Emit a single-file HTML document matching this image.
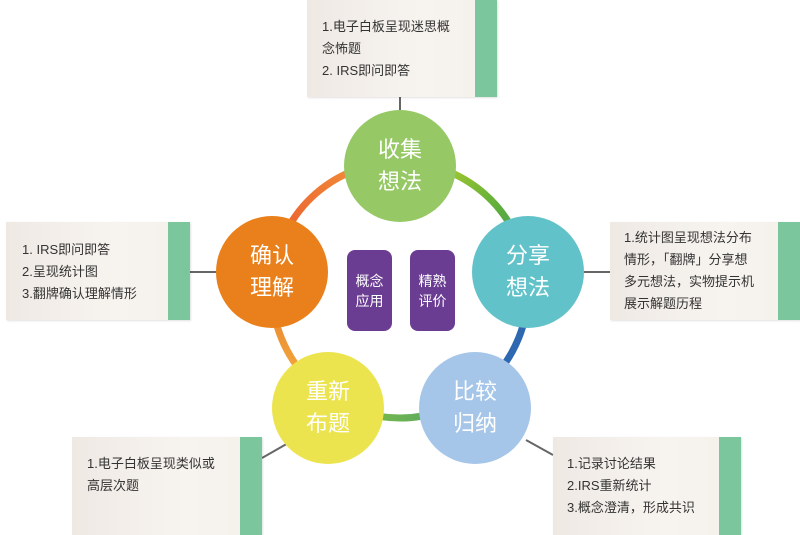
<!DOCTYPE html>
<html><head><meta charset="utf-8"><style>
body{margin:0;width:800px;height:535px;background:#fff;overflow:hidden;position:relative;font-family:"Liberation Sans","Noto Sans CJK SC",sans-serif}
.box{position:absolute;background:linear-gradient(90deg,#efe9e4,#f7f4f0 60%,#f4f0ea);box-shadow:1px 1px 2px rgba(0,0,0,.12);font-size:13px;color:#333;line-height:22px}
.box .s{position:absolute;top:0;right:0;width:22px;height:100%;background:#7bc69d}
.box .t{position:absolute}
.c{position:absolute;border-radius:50%;color:#fff;font-size:22px;line-height:32px;text-align:center;display:flex;align-items:center;justify-content:center}
.p{position:absolute;background:#6a3d92;border-radius:8px;color:#fff;font-size:14px;line-height:20px;text-align:center;display:flex;align-items:center;justify-content:center}
</style></head><body>
<svg width="800" height="535" style="position:absolute;left:0;top:0">
<defs>
<linearGradient id="g1" x1="0" y1="1" x2="1" y2="0"><stop offset="0" stop-color="#e8522e"/><stop offset="1" stop-color="#f39a3a"/></linearGradient>
<linearGradient id="g2" x1="0" y1="0" x2="1" y2="1"><stop offset="0" stop-color="#c7d42a"/><stop offset=".6" stop-color="#5cae3b"/><stop offset="1" stop-color="#4a9a7a"/></linearGradient>
<linearGradient id="g4" x1="0" y1="0" x2="1" y2="0"><stop offset="0" stop-color="#8cc43a"/><stop offset="1" stop-color="#4aa070"/></linearGradient>
<linearGradient id="g5" x1="0" y1="0" x2="0" y2="1"><stop offset="0" stop-color="#e8732a"/><stop offset="1" stop-color="#f2b040"/></linearGradient>
</defs>
<g fill="none" stroke-width="7">
<path d="M273.2 272.2 A128 128 0 0 1 400 162" stroke="url(#g1)"/>
<path d="M400 162 A128 128 0 0 1 526.8 272.2" stroke="url(#g2)"/>
<path d="M526.8 272.2 A128 128 0 0 1 478.8 390.9" stroke="#2e68b0"/>
<path d="M478.8 390.9 A128 128 0 0 1 321.2 390.9" stroke="url(#g4)"/>
<path d="M321.2 390.9 A128 128 0 0 1 273.2 272.2" stroke="url(#g5)"/>
</g>
<g stroke="#666" stroke-width="2">
<line x1="400" y1="97" x2="400" y2="110"/>
<line x1="190" y1="272" x2="216" y2="272"/>
<line x1="584" y1="272" x2="610" y2="272"/>
<line x1="262" y1="458" x2="290" y2="442"/>
<line x1="526" y1="440" x2="553" y2="455"/>
</g>
</svg>
<div class="box" style="left:307px;top:0;width:190px;height:97px"><div class="t" style="left:15px;top:16px">1.电子白板呈现迷思概<br>念怖题<br>2. IRS即问即答</div><div class="s"></div></div>
<div class="box" style="left:6px;top:222px;width:184px;height:98px"><div class="t" style="left:16px;top:17px">1. IRS即问即答<br>2.呈现统计图<br>3.翻牌确认理解情形</div><div class="s"></div></div>
<div class="box" style="left:610px;top:222px;width:190px;height:98px"><div class="t" style="left:14px;top:5px">1.统计图呈现想法分布<br>情形，「翻牌」分享想<br>多元想法，实物提示机<br>展示解题历程</div><div class="s"></div></div>
<div class="box" style="left:72px;top:437px;width:190px;height:98px"><div class="t" style="left:15px;top:16px">1.电子白板呈现类似或<br>高层次题</div><div class="s"></div></div>
<div class="box" style="left:553px;top:437px;width:188px;height:98px"><div class="t" style="left:14px;top:16px">1.记录讨论结果<br>2.IRS重新统计<br>3.概念澄清，形成共识</div><div class="s"></div></div>
<div class="c" style="left:344px;top:110px;width:112px;height:112px;background:#96c966">收集<br>想法</div>
<div class="c" style="left:216px;top:216px;width:112px;height:112px;background:#e9801b">确认<br>理解</div>
<div class="c" style="left:472px;top:216px;width:112px;height:112px;background:#62c2c9">分享<br>想法</div>
<div class="c" style="left:272px;top:352px;width:112px;height:112px;background:#ebe44e">重新<br>布题</div>
<div class="c" style="left:419px;top:352px;width:112px;height:112px;background:#a5c6e9">比较<br>归纳</div>
<div class="p" style="left:347px;top:250px;width:45px;height:81px">概念<br>应用</div>
<div class="p" style="left:410px;top:250px;width:45px;height:81px">精熟<br>评价</div>
</body></html>
